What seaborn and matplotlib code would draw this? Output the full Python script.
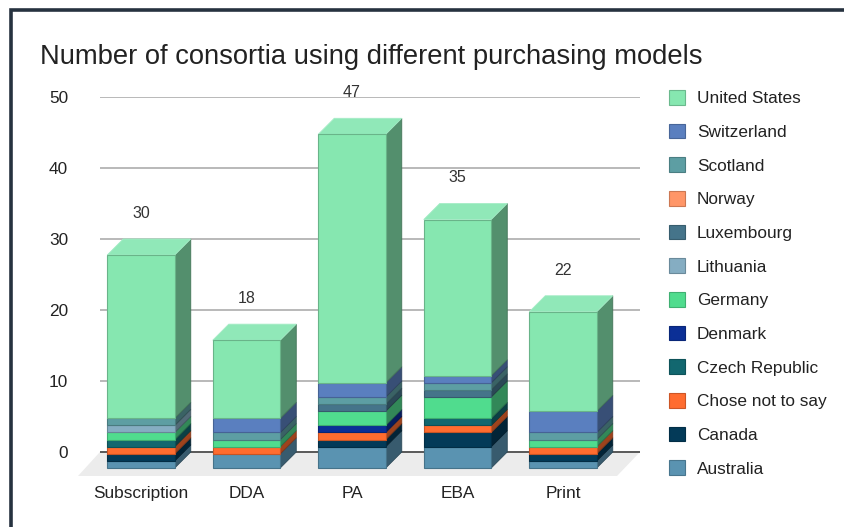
import numpy as np
import matplotlib
matplotlib.use('Agg')
import matplotlib.pyplot as plt
import seaborn as sns
from matplotlib.colors import to_rgb
from matplotlib.patches import Patch, Polygon, Rectangle

# Datos
models = ['Subscription', 'DDA', 'PA', 'EBA', 'Print']
australia = [1, 2, 3, 3, 1]
canada = [1, 0, 1, 2, 1]
chose_not = [1, 1, 1, 1, 1]
czech = [1, 0, 0, 1, 0]
denmark = [0, 0, 1, 0, 0]
germany = [1, 1, 2, 3, 1]
lithuania = [1, 0, 0, 0, 0]
luxembourg = [0, 0, 1, 1, 0]
norway = [0, 0, 0, 0, 0]
scotland = [1, 1, 1, 1, 1]
switzerland = [0, 2, 2, 1, 3]
united_states = [23, 11, 35, 22, 14]
totals = [30, 18, 47, 35, 22]
y_ticks = [0, 10, 20, 30, 40, 50]

# De abajo hacia arriba
series = [
    ('Australia', australia, '#5a93b1'),
    ('Canada', canada, '#033a58'),
    ('Chose not to say', chose_not, '#ff6c2f'),
    ('Czech Republic', czech, '#12676f'),
    ('Denmark', denmark, '#0b2f96'),
    ('Germany', germany, '#50dc8e'),
    ('Lithuania', lithuania, '#85adc2'),
    ('Luxembourg', luxembourg, '#45748a'),
    ('Norway', norway, '#ff9668'),
    ('Scotland', scotland, '#5d9ea3'),
    ('Switzerland', switzerland, '#5a7fbf'),
    ('United States', united_states, '#86e7b0'),
]

W, H = 845, 527
PX_X = 105.5  # pixeles por categoria
PX_Y = 7.08   # pixeles por unidad
DEPTH_X = 16 / PX_X
DEPTH_Y = 16 / PX_Y


def shade(color, factor):
    return tuple(c * factor for c in to_rgb(color))


sns.set_theme(style='white')
plt.rcParams['font.family'] = ['Liberation Sans', 'DejaVu Sans']

fig = plt.figure(figsize=(W / 100, H / 100), dpi=100)
ax = fig.add_axes([100 / W, 1 - 476 / H, 540 / W, 379 / H])
ax.set_xlim(-41 / PX_X, 499 / PX_X)
ax.set_ylim(-24 / PX_Y, 50)

# Piso gris del efecto 3D
left, right = ax.get_xlim()
floor = Polygon([(left, 0), (right, 0), (right - 23 / PX_X, -24 / PX_Y), (left - 22 / PX_X, -24 / PX_Y)],
                closed=True, facecolor='#ececec', edgecolor='none', clip_on=False, zorder=0.5)
ax.add_patch(floor)

ax.set_yticks(y_ticks)
ax.grid(axis='y', color='#b3b3b3', linewidth=1.3, zorder=1)
ax.set_axisbelow(True)
ax.plot([left, right], [0, 0], color='#4a4a4a', linewidth=1.2, zorder=1.2)

# Barras apiladas, una llamada de seaborn por pais
bottom = np.zeros(len(models))
us_bars = []
for name, values, color in series:
    values = np.array(values, dtype=float)
    before = len(ax.patches)
    sns.barplot(x=models, y=values, bottom=bottom - DEPTH_Y, color=color, saturation=1,
                width=0.64, errorbar=None, edgecolor=shade(color, 0.78), linewidth=0.8,
                zorder=3, ax=ax)
    new_bars = list(ax.patches[before:])
    if name == 'United States':
        us_bars = new_bars
    for bar in new_bars:
        if bar.get_height() == 0:
            bar.set_visible(False)
            continue
        x0 = bar.get_x() + bar.get_width()
        y0 = bar.get_y()
        y1 = y0 + bar.get_height()
        # cara lateral
        side = Polygon([(x0, y0), (x0 + DEPTH_X, y0 + DEPTH_Y), (x0 + DEPTH_X, y1 + DEPTH_Y), (x0, y1)],
                       closed=True, facecolor=shade(color, 0.62), edgecolor=shade(color, 0.5),
                       linewidth=0.6, zorder=2.9)
        ax.add_patch(side)
    bottom = bottom + values

# Cara superior de cada barra y etiqueta del total
for bar, total in zip(us_bars, totals):
    x0 = bar.get_x()
    x1 = x0 + bar.get_width()
    y1 = bar.get_y() + bar.get_height()
    top = Polygon([(x0, y1), (x1, y1), (x1 + DEPTH_X, y1 + DEPTH_Y), (x0 + DEPTH_X, y1 + DEPTH_Y)],
                  closed=True, facecolor='#90e8b8', edgecolor='#a5ecc6', linewidth=0.6, zorder=2.9)
    ax.add_patch(top)
    ax.text(x0 + bar.get_width() / 2, y1 + 41.5 / PX_Y, str(total), ha='center', va='center',
            fontsize=11.5, color='#333333', zorder=5)

ax.set_xlim(left, right)
ax.set_ylim(-24 / PX_Y, 50)
ax.set_xlabel('')
ax.set_ylabel('')
sns.despine(ax=ax, left=True, bottom=True, right=True, top=True)
ax.tick_params(axis='y', length=0, pad=23, labelsize=12.4, labelcolor='#222222')
ax.tick_params(axis='x', length=0, pad=7.5, labelsize=12.4, labelcolor='#222222')

fig.text(40 / W, 1 - 57 / H, 'Number of consortia using different purchasing models',
         fontsize=19.7, color='#222222', ha='left', va='center')

# Leyenda en orden inverso
handles = [Patch(facecolor=c, edgecolor=shade(c, 0.8), linewidth=0.8, label=n) for n, _, c in reversed(series)]
fig.legend(handles=handles, loc='upper left', bbox_to_anchor=(669 / W, 1 - 90 / H), frameon=False,
           fontsize=12.4, labelcolor='#222222', borderpad=0, borderaxespad=0, handlelength=0.93,
           handleheight=0.93, handletextpad=0.7, labelspacing=1.012)

# Marco oscuro de la captura
fig.add_artist(Rectangle((11.5 / W, -20 / H), (W + 40) / W, (H + 20 - 9.5) / H, transform=fig.transFigure,
                         fill=False, edgecolor='#26323f', linewidth=2.6))

fig.savefig('out.png', dpi=100)
